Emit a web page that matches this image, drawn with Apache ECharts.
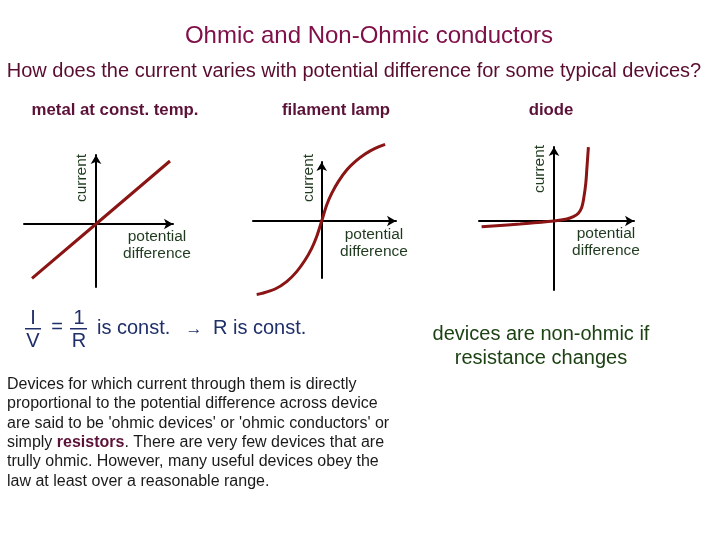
<!DOCTYPE html>
<html>
<head>
<meta charset="utf-8">
<title>Ohmic and Non-Ohmic conductors</title>
<script src="https://cdn.jsdelivr.net/npm/echarts@6/dist/echarts.min.js"></script>
<style>
    html, body { margin: 0; padding: 0; background: #ffffff; }
    #main { width: 720px; height: 540px; }
</style>
</head>
<body>
<div id="main"></div>
<script>
// data (arbitrary units: V across device, I through it)
var arrMetalV = [-3.2, 0, 3.7];
var arrMetalI = [-2.72, 0, 3.15];

var arrLampV = [-3.25, -3.0, -2.33, -1.75, -1.25, -0.83, -0.5, -0.25, 0, 0.25, 0.5, 0.83, 1.25, 1.67, 2.17, 2.67, 3.17];
var arrLampI = [-3.67, -3.62, -3.4, -3.03, -2.53, -1.95, -1.37, -0.78, 0, 0.8, 1.38, 1.97, 2.55, 2.97, 3.35, 3.63, 3.83];

var arrDiodeV = [-3.62, -1.7, 0, 0.64, 0.97, 1.22, 1.39, 1.5, 1.59, 1.65, 1.72];
var arrDiodeI = [-0.29, -0.15, 0, 0.1, 0.22, 0.39, 0.69, 1.22, 1.89, 2.72, 3.69];

var arrDeviceNames = ['metal at const. temp.', 'filament lamp', 'diode'];
var strAxisY = 'current';
var strAxisX = 'potential\ndifference';

var strParagraph = [
    'Devices for which current through them is directly',
    'proportional to the potential difference across device',
    'are said to be \'ohmic devices\' or \'ohmic conductors\' or',
    'simply {b|resistors}. There are very few devices that are',
    'trully ohmic. However, many useful devices obey the',
    'law at least over a reasonable range.'
].join('\n');

var LINE_COLOR = '#8b1414';
var LABEL_COLOR = '#1f3a1f';
var TITLE_COLOR = '#5c1238';
var FORMULA_COLOR = '#1f2f6a';
var FONT = 'Arial, "Liberation Sans", sans-serif';

var zip = function (arrA, arrB) {
    var arr = [];
    for (var i = 0; i < arrA.length; i++) {
        arr.push([arrA[i], arrB[i]]);
    }
    return arr;
};

function $extend(oA, oB) {
    for (var k in oB) { oA[k] = oB[k]; }
    return oA;
}

// one small xy plot per device, axes cross at the origin
var _makeAxis = function (iIndex, fMin, fMax) {
    return {
        type: 'value',
        gridIndex: iIndex,
        min: fMin,
        max: fMax,
        axisLine: {
            show: true,
            onZero: true,
            symbol: ['none', 'arrow'],
            symbolSize: [8, 9],
            lineStyle: { color: '#000', width: 2 }
        },
        axisTick: { show: false },
        axisLabel: { show: false },
        splitLine: { show: false }
    };
};

var _makeSeries = function (iIndex, arrV, arrI, fSmooth) {
    return {
        name: arrDeviceNames[iIndex],
        type: 'line',
        xAxisIndex: iIndex,
        yAxisIndex: iIndex,
        data: zip(arrV, arrI),
        smooth: fSmooth,
        showSymbol: false,
        clip: false,
        lineStyle: { color: LINE_COLOR, width: 3 }
    };
};

var _makeText = function (strText, x, y, oStyle, fRotation) {
    return {
        type: 'text',
        x: x,
        y: y,
        rotation: fRotation || 0,
        style: $extend({
            text: strText,
            fontFamily: FONT,
            align: 'center',
            verticalAlign: 'middle'
        }, oStyle)
    };
};

var oLabelStyle = { fontSize: 15.5, fill: LABEL_COLOR, lineHeight: 17 };
var oDevTitle = { fontSize: 16.8, fontWeight: 'bold', fill: TITLE_COLOR };
var oFormula = { fontSize: 20, fill: FORMULA_COLOR };

var option = {
    backgroundColor: '#ffffff',
    animation: false,
    grid: [
        { left: 24, top: 155, width: 149, height: 132 },
        { left: 253, top: 162, width: 143, height: 116 },
        { left: 479, top: 147, width: 155, height: 143 }
    ],
    xAxis: [
        _makeAxis(0, -3.6, 3.85),
        _makeAxis(1, -3.435, 3.715),
        _makeAxis(2, -3.75, 4.0)
    ],
    yAxis: [
        _makeAxis(0, -3.15, 3.45),
        _makeAxis(1, -2.85, 2.95),
        _makeAxis(2, -3.45, 3.7)
    ],
    series: [
        _makeSeries(0, arrMetalV, arrMetalI, false),
        _makeSeries(1, arrLampV, arrLampI, 0.3),
        _makeSeries(2, arrDiodeV, arrDiodeI, 0.4)
    ],
    graphic: [
        _makeText('Ohmic and Non-Ohmic conductors', 369, 36, { fontSize: 24, fill: '#801048' }),
        _makeText('How does the current varies with potential difference for some typical devices?', 354, 71,
            { fontSize: 20, fill: '#5a0c30', textShadowColor: 'rgba(0,0,0,0.15)', textShadowOffsetX: 1, textShadowOffsetY: 1 }),

        _makeText(arrDeviceNames[0], 115, 110, oDevTitle),
        _makeText(arrDeviceNames[1], 336, 110, oDevTitle),
        _makeText(arrDeviceNames[2], 551, 110, oDevTitle),

        _makeText(strAxisY, 82, 178, oLabelStyle, Math.PI / 2),
        _makeText(strAxisY, 309, 178, oLabelStyle, Math.PI / 2),
        _makeText(strAxisY, 540, 169, oLabelStyle, Math.PI / 2),
        _makeText(strAxisX, 157, 245, oLabelStyle),
        _makeText(strAxisX, 374, 243, oLabelStyle),
        _makeText(strAxisX, 606, 242, oLabelStyle),

        // I/V = 1/R is const.  -> R is const.
        _makeText('I', 33, 318, oFormula),
        { type: 'rect', shape: { x: 25, y: 328, width: 16, height: 1.5 }, style: { fill: FORMULA_COLOR } },
        _makeText('V', 33, 341, oFormula),
        _makeText('=', 57, 327, oFormula),
        _makeText('1', 79, 318, oFormula),
        { type: 'rect', shape: { x: 70, y: 328, width: 17, height: 1.5 }, style: { fill: FORMULA_COLOR } },
        _makeText('R', 79, 341, oFormula),
        _makeText('is const.', 97, 328, $extend({ align: 'left' }, oFormula)),
        _makeText('\u2192', 194, 329, { fontSize: 17, fill: FORMULA_COLOR }),
        _makeText('R is const.', 213, 328, $extend({ align: 'left' }, oFormula)),

        _makeText('devices are non-ohmic if\nresistance changes', 541, 346,
            { fontSize: 20, fill: '#1c4214', lineHeight: 24,
                textShadowColor: 'rgba(0,0,0,0.25)', textShadowOffsetX: 1, textShadowOffsetY: 1 }),

        _makeText(strParagraph, 7, 433, {
            fontSize: 16, fill: '#1a1a1a', lineHeight: 19.3, align: 'left',
            textShadowColor: 'rgba(0,0,0,0.2)', textShadowOffsetX: 1, textShadowOffsetY: 1,
            rich: {
                b: { fontSize: 16, fontWeight: 'bold', fill: TITLE_COLOR, lineHeight: 19.3, fontFamily: FONT }
            }
        })
    ]
};

var m_oChart = echarts.init(document.getElementById('main'));
m_oChart.setOption(option);
</script>
</body>
</html>
